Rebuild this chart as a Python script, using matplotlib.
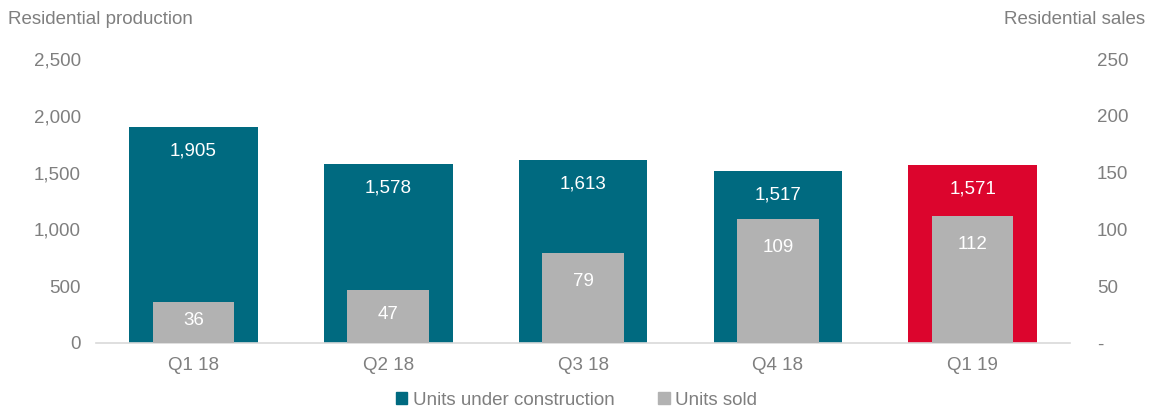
import matplotlib.pyplot as plt
from matplotlib.patches import Patch
from matplotlib.ticker import FuncFormatter

plt.rcParams['font.family'] = ['Liberation Sans', 'DejaVu Sans']

quarters = ["Q1 18", "Q2 18", "Q3 18", "Q4 18", "Q1 19"]
under_construction = [1905, 1578, 1613, 1517, 1571]
units_sold = [36, 47, 79, 109, 112]

TEAL = "#006A80"
RED = "#DC052D"
GREY = "#B2B2B2"
TXT = "#7F7F7F"
FS = 13.5

fig = plt.figure(figsize=(11.53, 4.09), dpi=100)
ax = fig.add_axes([0.0833, 0.1614, 0.8447, 0.6943])
ax2 = ax.twinx()

x = list(range(len(quarters)))
colors = [TEAL] * (len(quarters) - 1) + [RED]
ax.bar(x, under_construction, width=0.66, color=colors, zorder=2)
ax2.bar(x, units_sold, width=0.42, color=GREY, zorder=3)

ax.set_xlim(-0.5, len(quarters) - 0.5)
ax.set_ylim(0, 2500)
ax2.set_ylim(0, 250)
ax.set_yticks(range(0, 2501, 500))
ax2.set_yticks(range(0, 251, 50))
ax.yaxis.set_major_formatter(FuncFormatter(lambda v, p: f"{int(v):,}"))
ax2.yaxis.set_major_formatter(FuncFormatter(lambda v, p: "-" if v == 0 else f"{int(v)}"))
ax.set_xticks(x)
ax.set_xticklabels(quarters)

for a in (ax, ax2):
    for s in a.spines.values():
        s.set_visible(False)
    a.tick_params(length=0, labelsize=FS, labelcolor=TXT)
ax.spines["bottom"].set_visible(True)
ax.spines["bottom"].set_color("#D9D9D9")
ax.spines["bottom"].set_linewidth(1.2)
ax.spines["bottom"].set_zorder(4)
ax.tick_params(axis="y", pad=11)
ax.tick_params(axis="x", pad=10)
ax2.tick_params(axis="y", pad=19.5)
ax2.set_zorder(ax.get_zorder() + 1)
ax2.patch.set_visible(False)

# value labels inside the bars
for xi, v in zip(x, under_construction):
    ax.annotate(f"{v:,}", (xi, v), xytext=(0, -24), textcoords="offset pixels",
                ha="center", va="center", color="white", fontsize=FS, zorder=5)
for xi, v in zip(x, units_sold):
    y = max(v / 2 + 1.5, v - 25)
    ax2.text(xi, y, f"{v}", ha="center", va="center", color="white", fontsize=FS, zorder=5)

fig.text(0.007, 0.953, "Residential production", ha="left", va="center", color=TXT, fontsize=FS)
fig.text(0.993, 0.953, "Residential sales", ha="right", va="center", color=TXT, fontsize=FS)

handles = [Patch(color=TEAL, label="Units under construction"), Patch(color=GREY, label="Units sold")]
fig.legend(handles=handles, loc="center", bbox_to_anchor=(0.5, 0.022), ncol=2, frameon=False,
           fontsize=FS, labelcolor=TXT, handlelength=0.6, handleheight=0.6, handletextpad=0.3,
           columnspacing=2.35)

fig.savefig("out.png", dpi=100)
